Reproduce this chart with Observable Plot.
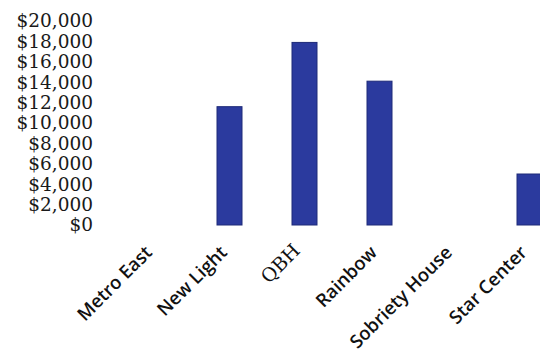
<!DOCTYPE html>
<html>
<head>
<meta charset="utf-8">
<script src="https://cdn.jsdelivr.net/npm/d3@7"></script>
<script src="https://cdn.jsdelivr.net/npm/@observablehq/plot@0.6"></script>
<style>
  html, body { margin: 0; padding: 0; background: #fff; overflow: hidden; }
  #chart svg { display: block; }
</style>
</head>
<body>
<div id="chart"></div>
<script>
const categories = ["Metro East", "New Light", "QBH", "Rainbow", "Sobriety House", "Star Center"];
const values = [0, 11600, 17900, 14100, 0, 5000];
const yTicks = [0, 2000, 4000, 6000, 8000, 10000, 12000, 14000, 16000, 18000, 20000];

const data = categories.map((c, i) => ({category: c, value: values[i]}));
const fmt = d => "$" + d3.format(",")(d);

const plot = Plot.plot({
  width: 540,
  height: 362,
  marginLeft: 0,
  marginRight: 0,
  marginTop: 0,
  marginBottom: 0,
  style: {background: "#fff", overflow: "hidden"},
  x: {domain: categories, range: [117, 567], paddingInner: 0.667, paddingOuter: 0.333, axis: null},
  y: {domain: [0, 20000], range: [225, 21], axis: null},
  marks: [
    Plot.barY(data, {x: "category", y: "value", fill: "#2b3a9e", stroke: "#1e2a78", strokeWidth: 1}),
    Plot.text(yTicks, {
      x: () => categories[0], y: d => d, text: fmt, frameAnchor: "left",
      dx: -62, textAnchor: "end", fontFamily: "DejaVu Serif", fontSize: 18.5, fill: "#1a1a1a"
    }),
    Plot.text(data.filter(d => d.category !== "QBH"), {
      x: "category", y: () => 0, text: "category", rotate: -45, textAnchor: "end",
      dx: -6, dy: 24, fontFamily: "Open Sans", fontSize: 18.5, fontWeight: 600, fill: "#111"
    }),
    Plot.text(data.filter(d => d.category === "QBH"), {
      x: "category", y: () => 0, text: "category", rotate: -45, textAnchor: "end",
      dx: -8, dy: 22, fontFamily: "DejaVu Serif", fontSize: 19, fill: "#111"
    })
  ]
});
document.getElementById("chart").appendChild(plot);
</script>
</body>
</html>
